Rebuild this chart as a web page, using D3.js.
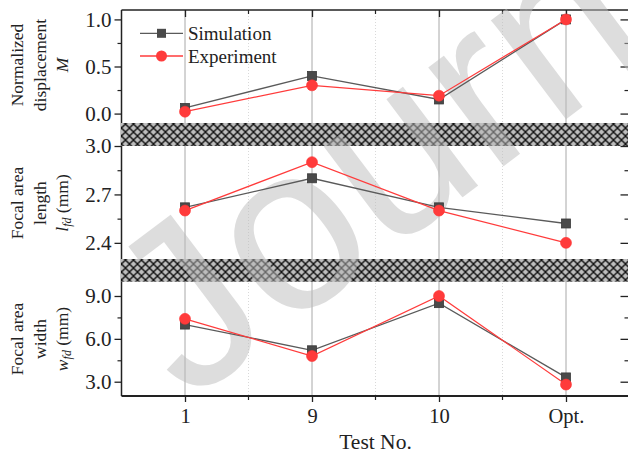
<!DOCTYPE html>
<html><head><meta charset="utf-8">
<script src="https://cdn.jsdelivr.net/npm/d3@7"></script>
<style>
html,body{margin:0;padding:0;background:#fff;}
svg{display:block;}
</style></head>
<body><svg id="c" width="628" height="453"></svg>
<script>
const categories = ["1", "9", "10", "Opt."];
const dispSim = [0.06, 0.40, 0.15, 1.00];
const dispExp = [0.02, 0.30, 0.19, 1.00];
const lenSim = [2.62, 2.80, 2.62, 2.52];
const lenExp = [2.60, 2.90, 2.60, 2.40];
const widSim = [7.0, 5.2, 8.5, 3.3];
const widExp = [7.4, 4.8, 9.0, 2.8];
const dispTicks = [0.0, 0.5, 1.0];
const dispMinor = [0.25, 0.75];
const lenTicks = [2.4, 2.7, 3.0];
const lenMinor = [2.55, 2.85];
const widTicks = [3.0, 6.0, 9.0];
const widMinor = [4.5, 7.5];
const seriesNames = ["Simulation", "Experiment"];

const SERIF = "'Liberation Serif', 'Times New Roman', 'DejaVu Serif', serif";
const svg = d3.select("#c");
const X0 = 121.5, X1 = 629.5, TOP = 10, BOT = 396;
const simColor = "#5a5a5a", simFill = "#4a4a4a", expColor = "#ff3b3b", ink = "#222";

const x = d3.scalePoint().domain(categories).range([X0, X1]).padding(0.5);
const mids = categories.slice(0, -1).map((c, i) => (x(c) + x(categories[i + 1])) / 2);

const panels = [
  {y: d3.scaleLinear().domain([-0.1, 1.1]).range([123, TOP]), sim: dispSim, exp: dispExp, ticks: dispTicks, minor: dispMinor},
  {y: d3.scaleLinear().domain([2.3, 3.0]).range([259, 146]), sim: lenSim, exp: lenExp, ticks: lenTicks, minor: lenMinor},
  {y: d3.scaleLinear().domain([2.0, 10.0]).range([BOT, 281.7]), sim: widSim, exp: widExp, ticks: widTicks, minor: widMinor}
];
const bands = [[123, 146], [259, 281.7]];

function txt(sel, size) {
  return sel.style("font-family", SERIF).style("font-size", size + "px").style("fill", ink);
}

// pattern
const defs = svg.append("defs");
const pat = defs.append("pattern").attr("id", "hatch").attr("patternUnits", "userSpaceOnUse")
  .attr("width", 8).attr("height", 8).attr("x", X0).attr("y", 0);
pat.append("rect").attr("width", 8).attr("height", 8).attr("fill", "#bdbdbd");
pat.append("path").attr("d", "M-1,-1L9,9M9,-1L-1,9").attr("stroke", "#111").attr("stroke-width", 1.4).attr("fill", "none");

// vertical grid
svg.append("g").selectAll("line").data(categories).join("line")
  .attr("x1", d => x(d)).attr("x2", d => x(d)).attr("y1", TOP).attr("y2", BOT)
  .attr("stroke", "#a8a8a8").attr("stroke-width", 1);
svg.append("g").selectAll("line").data(mids).join("line")
  .attr("x1", d => d).attr("x2", d => d).attr("y1", TOP).attr("y2", BOT)
  .attr("stroke", "#cfcfcf").attr("stroke-width", 0.8).attr("stroke-dasharray", "1,2");

// axes per panel
panels.forEach(p => {
  const gl = svg.append("g").attr("transform", `translate(${X0},0)`)
    .call(d3.axisLeft(p.y).tickValues(p.ticks).tickFormat(d3.format(".1f")).tickSize(7).tickSizeOuter(0));
  gl.select(".domain").remove();
  txt(gl.selectAll("text").attr("x", -10), 21);
  gl.selectAll("line").attr("stroke", ink).attr("stroke-width", 1.3);
  const gm = svg.append("g").attr("transform", `translate(${X0},0)`)
    .call(d3.axisLeft(p.y).tickValues(p.minor).tickFormat("").tickSize(4).tickSizeOuter(0));
  gm.select(".domain").remove();
  gm.selectAll("line").attr("stroke", ink).attr("stroke-width", 1.2);
  const gr = svg.append("g").attr("transform", `translate(${X1},0)`)
    .call(d3.axisLeft(p.y).tickValues(p.ticks).tickFormat("").tickSize(9).tickSizeOuter(0));
  gr.select(".domain").remove();
  gr.selectAll("line").attr("stroke", ink).attr("stroke-width", 1.3);
  const grm = svg.append("g").attr("transform", `translate(${X1},0)`)
    .call(d3.axisLeft(p.y).tickValues(p.minor).tickFormat("").tickSize(5).tickSizeOuter(0));
  grm.select(".domain").remove();
  grm.selectAll("line").attr("stroke", ink).attr("stroke-width", 1.2);
});

// left/right axis lines
svg.append("line").attr("x1", X0).attr("x2", X0).attr("y1", TOP).attr("y2", BOT).attr("stroke", ink).attr("stroke-width", 1.5);
svg.append("line").attr("x1", X1).attr("x2", X1).attr("y1", TOP).attr("y2", BOT).attr("stroke", ink).attr("stroke-width", 1.5);

// top axis (inward ticks)
const gt = svg.append("g").attr("transform", `translate(0,${TOP})`)
  .call(d3.axisBottom(x).tickFormat("").tickSize(7).tickSizeOuter(0));
gt.select(".domain").remove();
gt.selectAll("line").attr("stroke", ink).attr("stroke-width", 1.3);
svg.append("g").selectAll("line").data(mids).join("line")
  .attr("x1", d => d).attr("x2", d => d).attr("y1", TOP).attr("y2", TOP + 4).attr("stroke", ink).attr("stroke-width", 1.2);
svg.append("line").attr("x1", X0).attr("x2", X1).attr("y1", TOP).attr("y2", TOP).attr("stroke", ink).attr("stroke-width", 1.6);

// bottom axis
const gb = svg.append("g").attr("transform", `translate(0,${BOT})`)
  .call(d3.axisBottom(x).tickSize(6).tickSizeOuter(0));
gb.select(".domain").remove();
gb.selectAll("line").attr("stroke", ink).attr("stroke-width", 1.3);
txt(gb.selectAll("text").attr("y", 12).attr("dy", "0.71em"), 20.5);
svg.append("g").selectAll("line").data(mids).join("line")
  .attr("x1", d => d).attr("x2", d => d).attr("y1", BOT).attr("y2", BOT + 4).attr("stroke", ink).attr("stroke-width", 1.2);
svg.append("line").attr("x1", X0).attr("x2", X1).attr("y1", BOT).attr("y2", BOT).attr("stroke", ink).attr("stroke-width", 1.8);

// bands
svg.append("g").selectAll("rect").data(bands).join("rect")
  .attr("x", X0 - 0.5).attr("width", X1 - X0 + 1).attr("y", d => d[0]).attr("height", d => d[1] - d[0])
  .attr("fill", "url(#hatch)");

// watermark
svg.append("text").attr("transform", "translate(188,404) rotate(-37)")
  .style("font-family", "'Liberation Sans', Arial, sans-serif").style("font-size", "235px")
  .style("fill", "#bcbcbc").style("opacity", 0.5).text("Journal");

// data
panels.forEach(p => {
  const line = d3.line().x((d, i) => x(categories[i])).y(d => p.y(d));
  svg.append("path").attr("d", line(p.sim)).attr("fill", "none").attr("stroke", simColor).attr("stroke-width", 1.3);
  svg.append("g").selectAll("rect").data(p.sim).join("rect")
    .attr("x", (d, i) => x(categories[i]) - 4.5).attr("y", d => p.y(d) - 4.5).attr("width", 9).attr("height", 9)
    .attr("fill", simFill).attr("stroke", "#3a3a3a").attr("stroke-width", 0.8);
  svg.append("path").attr("d", line(p.exp)).attr("fill", "none").attr("stroke", expColor).attr("stroke-width", 1.2);
  svg.append("g").selectAll("circle").data(p.exp).join("circle")
    .attr("cx", (d, i) => x(categories[i])).attr("cy", d => p.y(d)).attr("r", 5.5)
    .attr("fill", expColor).attr("stroke", "#f33").attr("stroke-width", 0.6);
});

// legend
const lg = svg.append("g");
[[33.3, simColor, "sq"], [56, expColor, "ci"]].forEach((r, k) => {
  lg.append("line").attr("x1", 140).attr("x2", 183).attr("y1", r[0]).attr("y2", r[0]).attr("stroke", r[1]).attr("stroke-width", 1.3);
  if (r[2] === "sq") lg.append("rect").attr("x", 161.5 - 4.5).attr("y", r[0] - 4.5).attr("width", 9).attr("height", 9).attr("fill", simFill);
  else lg.append("circle").attr("cx", 161.5).attr("cy", r[0]).attr("r", 5.5).attr("fill", expColor);
  txt(lg.append("text").attr("x", 188).attr("y", r[0] + 6.5), 19).text(seriesNames[k]);
});

// axis title
txt(svg.append("text").attr("x", (X0 + X1) / 2).attr("y", 449).attr("text-anchor", "middle"), 21.5).text("Test No.");

// y titles
function ytitle(cy, lines) {
  const g = svg.append("g").attr("transform", `translate(0,${cy}) rotate(-90)`);
  const xs = [23, 45.5, 67.5];
  lines.forEach((ln, i) => {
    const t = txt(g.append("text").attr("x", 0).attr("y", xs[i]).attr("text-anchor", "middle"), 17.5);
    ln.forEach(seg => {
      const ts = t.append("tspan").text(seg.t);
      if (seg.i) ts.style("font-style", "italic");
      if (seg.sub) ts.attr("baseline-shift", "-22%").style("font-size", "12px");
    });
  });
}
ytitle(65, [[{t: "Normalized"}], [{t: "displacement"}], [{t: "M", i: true}]]);
ytitle(203, [[{t: "Focal area"}], [{t: "length"}], [{t: "l", i: true}, {t: "fd", i: true, sub: true}, {t: " (mm)"}]]);
ytitle(339, [[{t: "Focal area"}], [{t: "width"}], [{t: "w", i: true}, {t: "fd", i: true, sub: true}, {t: " (mm)"}]]);
</script></body></html>
